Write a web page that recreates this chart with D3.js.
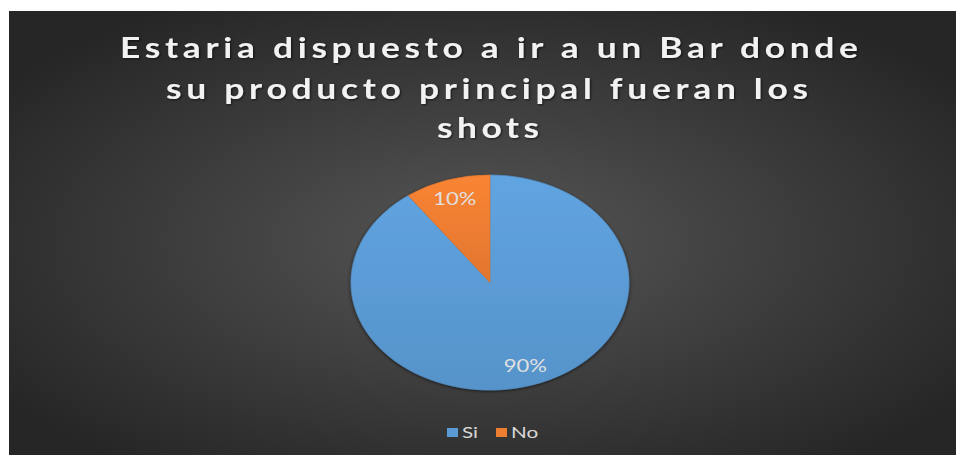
<!DOCTYPE html>
<html>
<head>
<meta charset="utf-8">
<script src="https://cdn.jsdelivr.net/npm/d3@7/dist/d3.min.js"></script>
<style>
html,body{margin:0;padding:0;background:#ffffff;}
svg{display:block;}
</style>
</head>
<body>
<svg id="chart" width="956" height="455"></svg>
<script>
const titleLines = ["Estaria dispuesto a ir a un Bar donde", "su producto principal fueran los", "shots"];
const categories = ["Si", "No"];
const values = [90, 10];
const labels = ["90%", "10%"];
const colors = ["#5B9BD5", "#ED7D31"];

const svg = d3.select("#chart");
const W = 956, H = 455;
const sx = 1.293; // horizontal stretch of the original picture
const tsx = 1.22; // glyph stretch for the title

const defs = svg.append("defs");
const bg = defs.append("radialGradient").attr("id","bg")
  .attr("cx","50%").attr("cy","52%").attr("r","62%");
bg.append("stop").attr("offset","0%").attr("stop-color","#565656");
bg.append("stop").attr("offset","100%").attr("stop-color","#262626");

colors.forEach((c,i)=>{
  const g = defs.append("linearGradient").attr("id","sg"+i)
    .attr("x1","0").attr("y1","0").attr("x2","0").attr("y2","1");
  g.append("stop").attr("offset","0%").attr("stop-color", d3.color(c).brighter(0.15));
  g.append("stop").attr("offset","100%").attr("stop-color", d3.color(c).darker(0.15));
});

const f = defs.append("filter").attr("id","sh").attr("x","-10%").attr("y","-10%").attr("width","120%").attr("height","120%");
f.append("feDropShadow").attr("dx",0).attr("dy",1).attr("stdDeviation",1.5)
  .attr("flood-color","#000").attr("flood-opacity",0.6);

const tf = defs.append("filter").attr("id","tsh").attr("x","-5%").attr("y","-20%").attr("width","110%").attr("height","140%");
tf.append("feDropShadow").attr("dx",1).attr("dy",1).attr("stdDeviation",1)
  .attr("flood-color","#000").attr("flood-opacity",0.6);

svg.append("rect").attr("x",9).attr("y",11).attr("width",W-9).attr("height",H-11)
  .attr("fill","url(#bg)");

// Title: each line fitted to the width it spans in the original
const titleX = [[120, 858], [166, 808], [437, 539]];
const baselines = [58, 99, 138];
titleLines.forEach((t,i)=>{
  svg.append("text")
    .attr("transform", `translate(${(titleX[i][0]+titleX[i][1])/2},${baselines[i]}) scale(${tsx},1)`)
    .attr("text-anchor","middle")
    .attr("font-family","Lato, 'Open Sans', sans-serif")
    .attr("font-weight","bold")
    .attr("font-size",29)
    .attr("textLength", (titleX[i][1]-titleX[i][0])/tsx)
    .attr("lengthAdjust","spacing")
    .attr("fill","#f2f2f2")
    .attr("filter","url(#tsh)")
    .text(t);
});

// Pie
const pcx = 490, pcy = 282.5, r = 107.5;
const pie = d3.pie().sort(null).value(d=>d);
const arcs = pie(values);
const arc = d3.arc().innerRadius(0).outerRadius(r);
const labelArc = d3.arc().innerRadius(r*0.82).outerRadius(r*0.82);

const pg = svg.append("g").attr("transform",`translate(${pcx},${pcy}) scale(${sx},1)`)
  .attr("filter","url(#sh)");
pg.selectAll("path").data(arcs).enter().append("path")
  .attr("d",arc)
  .attr("fill",(d,i)=>`url(#sg${i})`)
  .attr("stroke",(d,i)=>d3.color(colors[i]).darker(0.2))
  .attr("stroke-width",0.6);

svg.selectAll("text.lbl").data(arcs).enter().append("text")
  .attr("class","lbl")
  .attr("transform",(d)=>{const c=labelArc.centroid(d);return `translate(${pcx+c[0]*sx},${pcy+c[1]}) scale(${sx},1)`;})
  .attr("text-anchor","middle")
  .attr("dy","0.35em")
  .attr("font-family","Lato, 'Open Sans', sans-serif")
  .attr("font-size",17)
  .attr("fill","#e0e0e0")
  .text((d,i)=>labels[i]);

// Legend
const legX = [447, 496];
const lg = svg.append("g");
categories.forEach((c,i)=>{
  lg.append("rect").attr("x",legX[i]).attr("y",428).attr("width",11).attr("height",9)
    .attr("fill",colors[i]);
  lg.append("text")
    .attr("transform",`translate(${legX[i]+15},438) scale(${sx},1)`)
    .attr("font-family","Lato, 'Open Sans', sans-serif")
    .attr("font-size",16)
    .attr("fill","#d9d9d9")
    .text(c);
});
</script>
</body>
</html>
